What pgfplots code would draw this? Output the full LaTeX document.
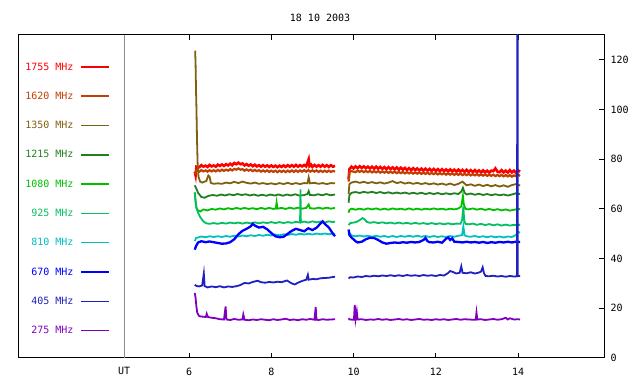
\documentclass[border=0pt]{standalone}
\usepackage{pgfplots}
\pgfplotsset{compat=1.18}
\usepackage{fontspec}
\setmonofont{DejaVu Sans Mono}
\definecolor{cA}{HTML}{FF0000}
\definecolor{cB}{HTML}{C04000}
\definecolor{cC}{HTML}{806010}
\definecolor{cD}{HTML}{208020}
\definecolor{cE}{HTML}{00C000}
\definecolor{cF}{HTML}{00C060}
\definecolor{cG}{HTML}{00C0C0}
\definecolor{cH}{HTML}{0000FF}
\definecolor{cI}{HTML}{2020C0}
\definecolor{cJ}{HTML}{8000C0}
\newcommand{\mf}{\ttfamily\fontsize{10bp}{12bp}\selectfont}
\begin{document}
\begin{tikzpicture}
\begin{axis}[
  scale only axis, width=586bp, height=323bp,
  xmin=1.842, xmax=16.09, ymin=0, ymax=130,
  axis line style={line width=1bp, black},
  xtick={6,8,10,12,14}, ytick={0,20,...,120},
  extra x ticks={4.42}, extra x tick labels={UT},
  extra x tick style={major tick length=0pt, xticklabel style={yshift=1bp}},
  ytick pos=right, yticklabel pos=right,
  tick align=inside, major tick length=5bp,
  tick style={line width=1bp, black},
  /pgf/number format/assume math mode=true,
  ticklabel style={font=\mf},
  xticklabel style={yshift=-6.5bp},
  yticklabel style={xshift=3bp},
  title={18 10 2003},
  title style={font=\mf, at={(rel axis cs:0.5154,1)}, anchor=center, yshift=11.5bp},
  unbounded coords=jump,
  legend plot pos=right, legend cell align=right,
  legend style={draw=none, fill=none, inner sep=0pt, outer sep=0pt,
    column sep=7bp, row sep=22.3bp,
    nodes={inner sep=0pt, text height=7bp, text depth=0pt, font=\mf},
    at={(rel axis cs:0.157,0.9133)}, anchor=north east},
  legend image code/.code={\draw[#1, line width=1.5bp] (0bp,-0.4bp) -- (28bp,-0.4bp);},
  every axis plot/.append style={line width=1.8bp},
]
\addplot[gray!90, line width=1bp, forget plot] coordinates {(4.42,0) (4.42,130)};

\addplot[cA, line width=2.6bp] coordinates {(6.14,75)(6.16,73.5)(6.18,77)(6.25,76.8)(6.3,77.6)(6.35,77.0)(6.4,77.4)(6.45,76.9)(6.5,77.7)(6.55,77.1)(6.6,77.5)(6.65,77.0)(6.7,77.8)(6.75,77.3)(6.8,77.9)(6.85,77.3)(6.9,78.0)(6.95,77.5)(7.0,78.2)(7.05,77.6)(7.1,78.5)(7.15,78.0)(7.2,78.6)(7.25,78.0)(7.3,78.3)(7.35,77.5)(7.4,78.0)(7.45,77.4)(7.5,77.9)(7.55,77.2)(7.6,77.8)(7.65,77.1)(7.7,77.6)(7.75,77.0)(7.8,77.6)(7.85,77.0)(7.9,77.5)(7.95,76.9)(8.0,77.5)(8.05,76.9)(8.1,77.4)(8.15,76.8)(8.2,77.4)(8.25,76.9)(8.3,77.5)(8.35,76.9)(8.4,77.6)(8.45,77.0)(8.5,77.6)(8.55,77.0)(8.6,77.7)(8.65,77.0)(8.7,77.6)(8.75,77.1)(8.8,77.7)(8.85,77.1)(8.91,80)(8.93,77.2)(8.97,77.8)(9.0,76.9)(9.05,77.7)(9.1,77.0)(9.15,77.6)(9.2,77.0)(9.25,77.7)(9.3,77.0)(9.35,77.6)(9.4,76.9)(9.45,77.6)(9.5,77.0)(9.55,77.3)
(9.7,nan)
(9.88,72)(9.9,76)(9.95,77)(10.0,76.3)(10.05,77.1)(10.1,76.4)(10.15,77.2)(10.2,76.5)(10.25,77.1)(10.3,76.4)(10.35,77.0)(10.4,76.3)(10.45,77.0)(10.5,76.2)(10.55,77.0)(10.6,76.2)(10.65,76.9)(10.7,76.1)(10.75,76.8)(10.8,76.0)(10.85,76.8)(10.9,76.0)(10.95,76.7)(11.0,75.9)(11.05,76.7)(11.1,75.8)(11.15,76.6)(11.2,75.8)(11.25,76.5)(11.3,75.7)(11.35,76.4)(11.4,75.6)(11.45,76.4)(11.5,75.6)(11.55,76.3)(11.6,75.5)(11.65,76.2)(11.7,75.4)(11.75,76.2)(11.8,75.4)(11.85,76.1)(11.9,75.3)(11.95,76.1)(12.0,75.3)(12.05,76.0)(12.1,75.2)(12.15,76.0)(12.2,75.2)(12.25,75.9)(12.3,75.1)(12.35,75.9)(12.4,75.1)(12.45,75.8)(12.5,75.0)(12.55,75.8)(12.6,75.0)(12.65,75.7)(12.7,74.9)(12.75,75.7)(12.8,74.9)(12.85,75.6)(12.9,74.8)(12.95,75.6)(13.0,74.8)(13.05,75.5)(13.1,74.7)(13.15,75.5)(13.2,74.7)(13.25,75.4)(13.3,74.6)(13.35,75.4)(13.4,75.2)(13.45,76.3)(13.5,75.0)(13.55,74.8)(13.6,75.6)(13.65,74.7)(13.7,75.4)(13.75,74.6)(13.8,75.6)(13.85,74.7)(13.9,75.4)(13.95,74.5)(14.0,75.5)(14.05,75.0)};
\addlegendentry{\textcolor{cA}{1755 MHz}}

\addplot[cB, line width=2.2bp] coordinates {(6.14,74)(6.18,75.5)(6.25,75.0)(6.3,75.6)(6.35,75.1)(6.4,75.5)(6.45,75.0)(6.5,75.6)(6.55,75.1)(6.6,75.6)(6.65,75.1)(6.7,75.7)(6.75,75.2)(6.8,75.8)(6.85,75.3)(6.9,75.8)(6.95,75.4)(7.0,76.0)(7.05,75.5)(7.1,76.1)(7.15,75.8)(7.2,76.3)(7.25,75.8)(7.3,76.0)(7.35,75.4)(7.4,75.9)(7.45,75.4)(7.5,75.8)(7.55,75.2)(7.6,75.7)(7.65,75.2)(7.7,75.6)(7.75,75.0)(7.8,75.5)(7.85,75.0)(7.9,75.5)(7.95,74.9)(8.0,75.4)(8.05,74.9)(8.1,75.4)(8.15,74.8)(8.2,75.4)(8.25,74.9)(8.3,75.4)(8.35,74.8)(8.4,75.4)(8.45,74.9)(8.5,75.5)(8.55,74.9)(8.6,75.5)(8.65,74.9)(8.7,75.5)(8.75,75.0)(8.8,75.6)(8.85,75.0)(8.9,75.6)(8.95,75.0)(9.0,75.5)(9.05,75.0)(9.1,75.5)(9.15,74.9)(9.2,75.4)(9.25,74.9)(9.3,75.4)(9.35,74.9)(9.4,75.4)(9.45,74.9)(9.5,75.3)(9.55,75.0)
(9.7,nan)
(9.88,71)(9.9,74.8)(9.95,75.2)(10.05,74.8)(10.1,75.4)(10.15,74.9)(10.2,75.4)(10.25,74.8)(10.3,75.3)(10.35,74.8)(10.4,75.3)(10.45,74.7)(10.5,75.2)(10.55,74.7)(10.6,75.2)(10.65,74.6)(10.7,75.1)(10.75,74.6)(10.8,75.1)(10.85,74.5)(10.9,75.0)(10.95,74.5)(11.0,75.0)(11.05,74.4)(11.1,74.9)(11.15,74.4)(11.2,74.9)(11.25,74.3)(11.3,74.8)(11.35,74.3)(11.4,74.8)(11.45,74.2)(11.5,74.7)(11.55,74.2)(11.6,74.7)(11.65,74.1)(11.7,74.6)(11.75,74.1)(11.8,74.6)(11.85,74.0)(11.9,74.5)(11.95,74.0)(12.0,74.5)(12.05,73.9)(12.1,74.4)(12.15,73.9)(12.2,74.4)(12.25,73.8)(12.3,74.3)(12.35,73.8)(12.4,74.3)(12.45,73.7)(12.5,74.2)(12.55,73.7)(12.6,74.2)(12.65,73.6)(12.7,74.1)(12.75,73.6)(12.8,74.1)(12.85,73.5)(12.9,74.0)(12.95,73.5)(13.0,74.0)(13.05,73.4)(13.1,73.9)(13.15,73.4)(13.2,73.9)(13.25,73.3)(13.3,73.8)(13.35,73.3)(13.4,73.8)(13.45,73.2)(13.5,73.7)(13.55,73.2)(13.6,73.7)(13.65,73.1)(13.7,73.6)(13.75,73.1)(13.8,73.6)(13.85,73.0)(13.9,73.5)(13.95,73.2)(14.0,73.8)(14.05,73.3)};
\addlegendentry{\textcolor{cB}{1620 MHz}}

\addplot[cC] coordinates {(6.15,123.7)(6.16,118)(6.17,108)(6.18,101)(6.19,92)(6.20,84)(6.21,78)(6.23,73)(6.27,71.0)(6.32,70.6)(6.38,71.0)(6.42,71.2)(6.47,73.5)(6.5,73.0)(6.53,70.5)(6.6,70.1)(6.7,70.3)(6.8,70.1)(6.9,70.6)(7.0,70.3)(7.1,70.9)(7.2,70.4)(7.3,71.0)(7.4,70.5)(7.5,70.2)(7.6,70.6)(7.7,70.1)(7.8,70.4)(7.9,70.0)(8.0,70.3)(8.1,69.9)(8.2,70.4)(8.3,70.0)(8.4,70.5)(8.5,70.0)(8.6,70.4)(8.7,70.0)(8.8,70.4)(8.88,70.3)(8.91,72.7)(8.94,70.3)(9.05,70.5)(9.15,70.1)(9.25,70.4)(9.35,70.0)(9.45,70.4)(9.55,70.3)
(9.7,nan)
(9.88,66)(9.9,70)(9.95,70.6)(10.05,71.0)(10.15,70.5)(10.25,70.9)(10.35,70.4)(10.45,70.8)(10.55,70.3)(10.65,70.7)(10.75,70.2)(10.85,70.6)(10.95,71.2)(11.05,70.4)(11.15,70.8)(11.25,70.2)(11.35,70.6)(11.45,70.1)(11.55,70.5)(11.65,70.0)(11.75,70.4)(11.85,69.9)(11.95,70.3)(12.05,69.8)(12.15,70.2)(12.25,69.7)(12.35,70.2)(12.45,69.6)(12.55,70.1)(12.65,71.0)(12.7,70.2)(12.75,69.5)(12.85,69.9)(12.95,69.3)(13.05,69.8)(13.15,69.2)(13.25,69.7)(13.35,69.1)(13.45,69.6)(13.55,69.0)(13.65,69.5)(13.75,68.9)(13.85,69.6)(13.95,70.0)(14.05,69.4)};
\addlegendentry{\textcolor{cC}{1350 MHz}}

\addplot[cD] coordinates {(6.14,69.5)(6.17,68.5)(6.22,66.5)(6.3,64.8)(6.38,64.5)(6.48,65.3)(6.58,65.6)(6.68,65.3)(6.78,65.8)(6.88,65.4)(6.98,65.9)(7.08,65.5)(7.18,66.0)(7.28,65.6)(7.38,65.9)(7.48,65.4)(7.58,65.8)(7.68,65.3)(7.78,65.7)(7.88,65.3)(7.98,65.8)(8.08,65.4)(8.18,65.8)(8.28,65.3)(8.38,65.8)(8.48,65.4)(8.58,65.9)(8.68,65.4)(8.78,65.5)(8.88,66.0)(8.91,67.2)(8.94,65.6)(9.04,65.5)(9.14,65.9)(9.24,65.5)(9.34,66.0)(9.44,65.5)(9.55,65.8)
(9.7,nan)
(9.88,62.5)(9.9,65.5)(9.95,66.5)(10.05,66.8)(10.15,66.4)(10.25,66.9)(10.35,66.5)(10.45,66.9)(10.55,66.4)(10.65,66.8)(10.75,66.3)(10.85,66.7)(10.95,66.2)(11.05,66.6)(11.15,66.2)(11.25,66.6)(11.35,66.1)(11.45,66.5)(11.55,66.1)(11.65,66.5)(11.75,66.0)(11.85,66.4)(11.95,66.0)(12.05,66.4)(12.15,65.9)(12.25,66.3)(12.35,65.9)(12.45,66.3)(12.55,66.0)(12.62,67.0)(12.66,68.5)(12.7,66.5)(12.75,65.8)(12.85,66.2)(12.95,65.7)(13.05,66.1)(13.15,65.6)(13.25,66.0)(13.35,65.5)(13.45,65.9)(13.55,65.5)(13.65,65.8)(13.75,65.4)(13.85,65.8)(13.95,66.3)(14.05,66.0)};
\addlegendentry{\textcolor{cD}{1215 MHz}}

\addplot[cE] coordinates {(6.14,66.7)(6.16,63)(6.18,60.5)(6.22,59.3)(6.28,59.0)(6.35,59.8)(6.45,59.4)(6.55,60.0)(6.65,59.7)(6.75,60.2)(6.85,59.8)(6.95,60.3)(7.05,59.9)(7.15,60.4)(7.25,60.0)(7.35,60.4)(7.45,60.0)(7.55,60.3)(7.65,59.9)(7.75,60.4)(7.85,60.0)(7.95,60.4)(8.05,60.0)(8.11,60.2)(8.13,62.6)(8.15,60.1)(8.25,60.4)(8.35,60.0)(8.45,60.5)(8.55,60.1)(8.65,60.5)(8.75,60.1)(8.85,60.4)(8.91,61.8)(8.94,60.3)(9.05,60.1)(9.15,60.5)(9.25,60.1)(9.35,60.5)(9.45,60.1)(9.55,60.4)
(9.7,nan)
(9.88,58.5)(9.9,59.6)(9.95,60.1)(10.05,59.7)(10.15,60.1)(10.25,59.7)(10.35,60.2)(10.45,59.8)(10.55,60.2)(10.65,59.7)(10.75,60.1)(10.85,59.7)(10.95,60.2)(11.05,59.8)(11.15,60.1)(11.25,59.7)(11.35,60.2)(11.45,59.7)(11.55,60.1)(11.65,59.7)(11.75,60.1)(11.85,59.8)(11.95,60.2)(12.05,59.8)(12.15,60.1)(12.25,59.7)(12.35,60.1)(12.45,59.8)(12.55,60.2)(12.62,61.0)(12.66,65.2)(12.68,62.0)(12.72,60.0)(12.8,59.8)(12.9,60.2)(13.0,59.7)(13.1,60.1)(13.2,59.6)(13.3,60.0)(13.4,59.5)(13.5,59.9)(13.6,59.4)(13.7,59.8)(13.8,59.3)(13.9,59.7)(14.0,59.8)(14.05,60.0)};
\addlegendentry{\textcolor{cE}{1080 MHz}}

\addplot[cF] coordinates {(6.14,66.6)(6.16,63)(6.18,60.5)(6.22,58.5)(6.28,56.5)(6.35,55.0)(6.42,54.2)(6.5,54.0)(6.6,54.3)(6.7,54.0)(6.8,54.4)(6.9,54.1)(7.0,54.5)(7.1,54.2)(7.2,54.5)(7.3,54.1)(7.4,54.5)(7.5,54.2)(7.6,54.6)(7.7,54.2)(7.8,54.6)(7.9,54.3)(8.0,54.7)(8.1,54.3)(8.2,54.7)(8.3,54.3)(8.4,54.7)(8.5,54.4)(8.6,54.8)(8.7,54.5)(8.71,67.9)(8.72,54.6)(8.8,54.9)(8.9,54.5)(9.0,55.0)(9.1,54.6)(9.2,54.9)(9.3,54.5)(9.4,55.0)(9.5,54.7)(9.55,54.9)
(9.7,nan)
(9.88,53.5)(9.92,54.3)(10.0,54.5)(10.08,54.8)(10.15,55.5)(10.22,56.3)(10.27,55.8)(10.32,54.8)(10.4,54.4)(10.5,54.7)(10.6,54.3)(10.7,54.6)(10.8,54.2)(10.9,54.5)(11.0,54.1)(11.1,54.5)(11.2,54.1)(11.3,54.4)(11.4,54.0)(11.5,54.4)(11.6,54.0)(11.7,54.3)(11.8,53.9)(11.9,54.3)(12.0,53.9)(12.1,54.2)(12.2,53.8)(12.3,54.2)(12.4,53.8)(12.5,54.1)(12.6,54.0)(12.64,55.5)(12.67,61.0)(12.69,55.5)(12.72,54.0)(12.8,53.8)(12.9,54.1)(13.0,53.6)(13.1,54.0)(13.2,53.5)(13.3,53.9)(13.4,53.4)(13.5,53.8)(13.6,53.3)(13.7,53.7)(13.8,53.3)(13.9,53.6)(14.0,53.4)(14.05,53.7)};
\addlegendentry{\textcolor{cF}{925 MHz}}

\addplot[cG] coordinates {(6.14,47.0)(6.17,48.3)(6.22,48.5)(6.3,48.9)(6.4,48.6)(6.5,49.0)(6.6,48.7)(6.7,49.0)(6.8,48.7)(6.9,49.1)(7.0,48.8)(7.1,49.2)(7.2,48.9)(7.3,49.3)(7.4,49.0)(7.5,49.4)(7.6,49.1)(7.7,49.5)(7.8,49.2)(7.9,49.6)(8.0,49.3)(8.1,49.7)(8.2,49.4)(8.3,49.8)(8.4,49.5)(8.5,49.9)(8.6,49.6)(8.7,50.0)(8.8,49.7)(8.9,50.0)(9.0,49.7)(9.1,50.1)(9.2,49.8)(9.3,50.1)(9.4,49.8)(9.5,50.1)(9.55,49.9)
(9.7,nan)
(9.88,51.5)(9.9,50.5)(9.95,49.3)(10.05,49.0)(10.15,49.3)(10.25,48.9)(10.35,49.2)(10.45,48.8)(10.55,49.2)(10.65,48.8)(10.75,49.1)(10.85,48.7)(10.95,49.1)(11.05,48.7)(11.15,49.1)(11.25,48.8)(11.35,49.2)(11.45,48.8)(11.55,49.2)(11.65,48.8)(11.75,49.1)(11.85,48.7)(11.95,49.1)(12.05,48.7)(12.15,49.0)(12.25,48.7)(12.35,49.1)(12.45,48.8)(12.55,49.2)(12.64,49.5)(12.67,53.0)(12.7,49.4)(12.75,49.0)(12.85,48.8)(12.95,49.1)(13.05,48.7)(13.15,49.0)(13.25,48.6)(13.35,49.0)(13.45,48.6)(13.55,48.9)(13.65,48.5)(13.75,48.9)(13.85,48.7)(13.95,49.5)(14.0,50.8)(14.05,50.4)};
\addlegendentry{\textcolor{cG}{810 MHz}}

\addplot[cH, line width=2.3bp] coordinates {(6.14,43.6)(6.17,45.0)(6.22,46.5)(6.3,47.0)(6.4,46.6)(6.5,46.9)(6.6,46.6)(6.7,46.3)(6.8,46.0)(6.9,46.1)(7.0,46.6)(7.1,47.8)(7.2,49.8)(7.3,51.2)(7.4,52.0)(7.5,53.0)(7.55,54.0)(7.6,53.3)(7.7,52.5)(7.8,52.8)(7.9,51.8)(8.0,50.3)(8.1,49.0)(8.2,48.6)(8.3,48.8)(8.4,50.0)(8.5,51.2)(8.6,52.0)(8.7,51.5)(8.8,51.0)(8.9,52.2)(9.0,51.5)(9.1,52.4)(9.2,54.2)(9.25,55.0)(9.3,54.0)(9.4,52.5)(9.5,50.0)(9.55,49.0)
(9.7,nan)
(9.88,51.7)(9.9,49.5)(9.95,48.5)(10.05,47.0)(10.1,46.5)(10.2,46.8)(10.3,47.8)(10.4,48.4)(10.5,48.3)(10.6,47.5)(10.7,46.5)(10.8,46.0)(10.9,46.3)(11.0,46.5)(11.1,46.3)(11.2,46.6)(11.3,46.4)(11.4,46.7)(11.5,46.5)(11.6,46.7)(11.7,47.5)(11.75,48.3)(11.8,47.0)(11.85,46.6)(11.95,46.5)(12.05,46.8)(12.15,46.4)(12.25,48.0)(12.3,48.5)(12.35,47.5)(12.4,48.2)(12.45,46.8)(12.55,46.7)(12.65,46.5)(12.75,46.8)(12.85,46.5)(12.95,46.7)(13.05,46.4)(13.15,46.7)(13.25,46.3)(13.35,46.6)(13.45,46.4)(13.55,46.7)(13.65,46.5)(13.75,46.8)(13.85,46.5)(13.95,46.8)(14.05,46.7)};
\addlegendentry{\textcolor{cH}{670 MHz}}

\addplot[cI] coordinates {(6.14,29.5)(6.18,29.0)(6.25,28.8)(6.32,29.2)(6.36,34.0)(6.38,29.0)(6.45,28.4)(6.55,28.8)(6.65,28.5)(6.75,28.9)(6.85,28.4)(6.95,28.8)(7.05,28.6)(7.15,28.9)(7.24,29.3)(7.35,30.2)(7.45,30.0)(7.55,30.6)(7.67,31.1)(7.75,30.5)(7.85,30.3)(7.95,30.6)(8.05,30.4)(8.15,30.7)(8.25,30.5)(8.38,31.2)(8.5,30.0)(8.57,29.6)(8.65,30.3)(8.75,31.0)(8.85,31.5)(8.89,33.5)(8.91,31.5)(9.0,31.8)(9.1,31.7)(9.2,32.1)(9.3,32.2)(9.4,32.3)(9.5,32.6)(9.55,32.7)
(9.7,nan)
(9.88,32.0)(9.92,32.5)(10.0,32.4)(10.1,32.8)(10.2,32.6)(10.3,33.0)(10.4,32.8)(10.5,33.1)(10.6,32.9)(10.7,33.2)(10.8,33.0)(10.9,33.3)(11.0,33.0)(11.1,33.3)(11.2,33.0)(11.3,33.4)(11.4,33.1)(11.5,33.3)(11.6,33.0)(11.7,33.4)(11.8,33.1)(11.9,33.3)(12.0,33.0)(12.1,33.4)(12.2,33.2)(12.3,34.2)(12.35,35.0)(12.42,34.6)(12.5,34.0)(12.58,34.3)(12.62,36.9)(12.65,34.3)(12.75,34.1)(12.85,34.5)(12.95,34.0)(13.05,34.4)(13.1,34.8)(13.14,36.5)(13.17,34.2)(13.21,33.0)(13.3,32.9)(13.4,33.1)(13.5,32.8)(13.6,33.0)(13.7,32.7)(13.8,33.0)(13.9,32.8)(13.975,32.9)(13.985,200)(13.995,32.9)(14.05,33.0)};
\addlegendentry{\textcolor{cI}{405 MHz}}

\addplot[cJ] coordinates {(6.14,26.2)(6.16,24.2)(6.18,20.7)(6.2,18.2)(6.25,16.8)(6.35,16.6)(6.41,16.5)(6.43,17.8)(6.46,16.5)(6.55,16.2)(6.65,16.0)(6.75,15.6)(6.85,15.5)(6.89,20.7)(6.91,15.5)(7.0,15.3)(7.1,15.7)(7.2,15.4)(7.3,15.5)(7.32,17.5)(7.35,15.4)(7.45,15.2)(7.55,15.5)(7.65,15.3)(7.75,15.6)(7.85,15.4)(7.95,15.2)(8.05,15.6)(8.15,15.3)(8.25,15.5)(8.35,15.8)(8.45,15.3)(8.55,15.5)(8.65,15.2)(8.75,15.6)(8.85,15.4)(8.95,15.7)(9.05,15.4)(9.08,20.5)(9.1,15.4)(9.15,15.3)(9.25,15.6)(9.35,15.4)(9.45,15.5)(9.55,15.6)
(9.7,nan)
(9.88,16.0)(9.9,15.5)(10.01,15.4)(10.03,21.4)(10.05,15.6)(10.08,18.7)(10.1,15.5)(10.2,15.6)(10.3,15.3)(10.4,15.5)(10.5,15.4)(10.6,15.7)(10.7,15.4)(10.8,15.6)(10.9,15.3)(11.0,15.5)(11.1,15.7)(11.2,15.4)(11.3,15.6)(11.4,15.3)(11.5,15.5)(11.6,15.7)(11.7,15.4)(11.8,15.5)(11.9,15.3)(12.0,15.6)(12.1,15.4)(12.2,15.6)(12.3,15.3)(12.4,15.5)(12.5,15.7)(12.6,15.4)(12.7,15.6)(12.8,15.5)(12.9,15.4)(12.97,15.4)(12.99,18.3)(13.01,15.5)(13.1,15.6)(13.2,15.3)(13.3,15.5)(13.4,15.7)(13.5,15.4)(13.6,15.6)(13.7,16.2)(13.75,15.5)(13.8,16.0)(13.9,15.5)(14.0,15.6)(14.05,15.5)};
\addlegendentry{\textcolor{cJ}{275 MHz}}
\end{axis}
\pgfresetboundingbox
\path[use as bounding box] (-18bp,-26bp) rectangle (622bp,358bp);
\end{tikzpicture}
\end{document}
